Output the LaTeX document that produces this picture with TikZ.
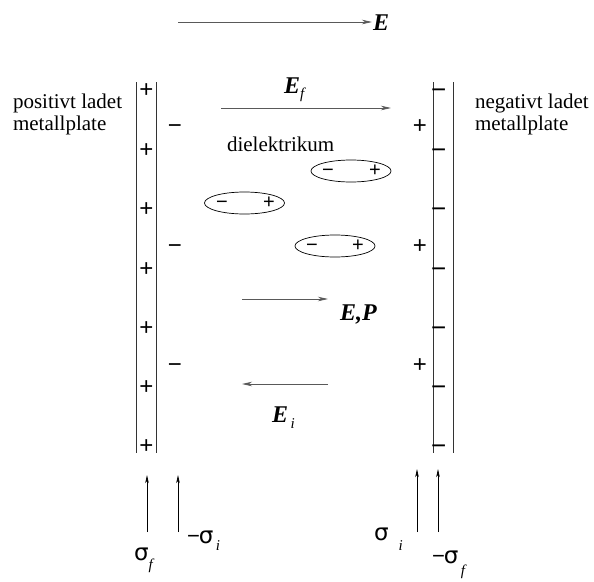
\documentclass[tikz,border=0pt]{standalone}
\usepackage{fontspec}
\setmainfont{Liberation Serif}
\newfontfamily\sansf{Liberation Sans}
\newfontfamily\sigf{DejaVu Sans}
\usetikzlibrary{arrows.meta,shapes.geometric}
\newcommand\lsub[2]{\raisebox{-#1}{\fontsize{15}{15}\selectfont\normalfont\itshape #2}}
\newcommand\chg[1]{\vphantom{+}#1}
\newcommand\sig{{\sigf\fontsize{23}{23}\selectfont σ}}
\newcommand\mns{{\sansf\fontsize{22}{22}\selectfont −}}
\begin{document}
\begin{tikzpicture}[x=1pt,y=-1pt,
  every node/.style={inner sep=0pt, outer sep=0pt},
  txt/.style={font=\fontsize{21}{22}\selectfont, anchor=base west},
  vec/.style={font=\fontsize{24}{24}\selectfont\bfseries\itshape, anchor=base west},
  sig/.style={anchor=base west},
  charge/.style={font=\sansf\fontsize{24}{24}\selectfont},
  rcharge/.style={font=\sansf\fontsize{26}{26}\selectfont},
  dipch/.style={font=\sansf\fontsize{20}{20}\selectfont},
  plate/.style={line width=0.9pt, draw=black!80},
  farrow/.style={line width=0.8pt, draw=black!65, -{Stealth[length=10pt,width=4.5pt,inset=3pt]}},
  sarrow/.style={line width=0.7pt, -{Stealth[length=8pt,width=3.5pt,inset=2pt]}},
  dipole/.style={draw, ellipse, minimum width=80pt, minimum height=22pt, line width=0.7pt}]
\useasboundingbox (0,0) rectangle (594,581);

% top field arrow
\coordinate (t1) at (178,22);
\coordinate (t2) at (372,22);
\draw[farrow] (t1) -- (t2);
\node[vec] (E) at (373,30) {E};

% plates
\draw[plate] (136,82) -- (136,453);
\draw[plate] (156,82) -- (156,453);
\draw[plate] (433,82) -- (433,453);
\draw[plate] (453,82) -- (453,453);

% plate labels
\node[txt] (pos1) at (13,108) {positivt ladet};
\node[txt] (pos2) at (13,130) {metallplate};
\node[txt] (neg1) at (475,108) {negativt ladet};
\node[txt] (neg2) at (475,130) {metallplate};

% free charges on plates
\foreach \y [count=\i] in {91,151,210,270,329,388,447} {
  \node[charge] (lp\i) at (146.5,\y) {\chg{+}};
  \node[rcharge, anchor=west] (rm\i) at (431,\y) {\chg{−}};
}
% bound surface charges
\foreach \y [count=\i] in {127,247,366} {
  \node[charge] (lm\i) at (175,\y) {\chg{−}};
  \node[charge] (rp\i) at (420,\y) {\chg{+}};
}

% E_f
\coordinate (f1) at (221,108);
\coordinate (f2) at (391,108);
\draw[farrow] (f1) -- (f2);
\node[vec] (Ef) at (284,93) {E\lsub{5pt}{f}};

\node[txt] (diel) at (227,151) {dielektrikum};

% dipoles
\node[dipole] (d1) at (351,171) {};
\node[dipch] (d1m) at (328,171) {\chg{−}};
\node[dipch] (d1p) at (375,171) {\chg{+}};
\node[dipole] (d2) at (244.5,203) {};
\node[dipch] (d2m) at (222,203) {\chg{−}};
\node[dipch] (d2p) at (269,203) {\chg{+}};
\node[dipole] (d3) at (335,246) {};
\node[dipch] (d3m) at (312,246) {\chg{−}};
\node[dipch] (d3p) at (358,246) {\chg{+}};

% E,P
\coordinate (p1) at (242,299);
\coordinate (p2) at (328,299);
\draw[farrow] (p1) -- (p2);
\node[vec] (EP) at (340,320) {E,P};

% E_i
\coordinate (i1) at (328,384);
\coordinate (i2) at (242,384);
\draw[farrow] (i1) -- (i2);
\node[vec] (Ei) at (272,422) {E\lsub{6pt}{\,i}};

% surface charge arrows
\coordinate (a1) at (147,532); \coordinate (a1e) at (147,475);
\coordinate (a2) at (178,532); \coordinate (a2e) at (178,475);
\coordinate (a3) at (417,532); \coordinate (a3e) at (417,469);
\coordinate (a4) at (438,532); \coordinate (a4e) at (438,469);
\draw[sarrow] (a1) -- (a1e);
\draw[sarrow] (a2) -- (a2e);
\draw[sarrow] (a3) -- (a3e);
\draw[sarrow] (a4) -- (a4e);

\node[sig] (sf) at (134,560) {\sig\lsub{9pt}{f}};
\node[sig] (msi) at (187,543) {\mns\kern-1pt\sig\lsub{7pt}{\,i}};
\node[sig] (si) at (374,540) {\sig\hspace{10pt}\lsub{10pt}{i}};
\node[sig] (msf) at (432,563) {\mns\kern-1pt\sig\lsub{12pt}{\,f}};
\end{tikzpicture}
\end{document}
